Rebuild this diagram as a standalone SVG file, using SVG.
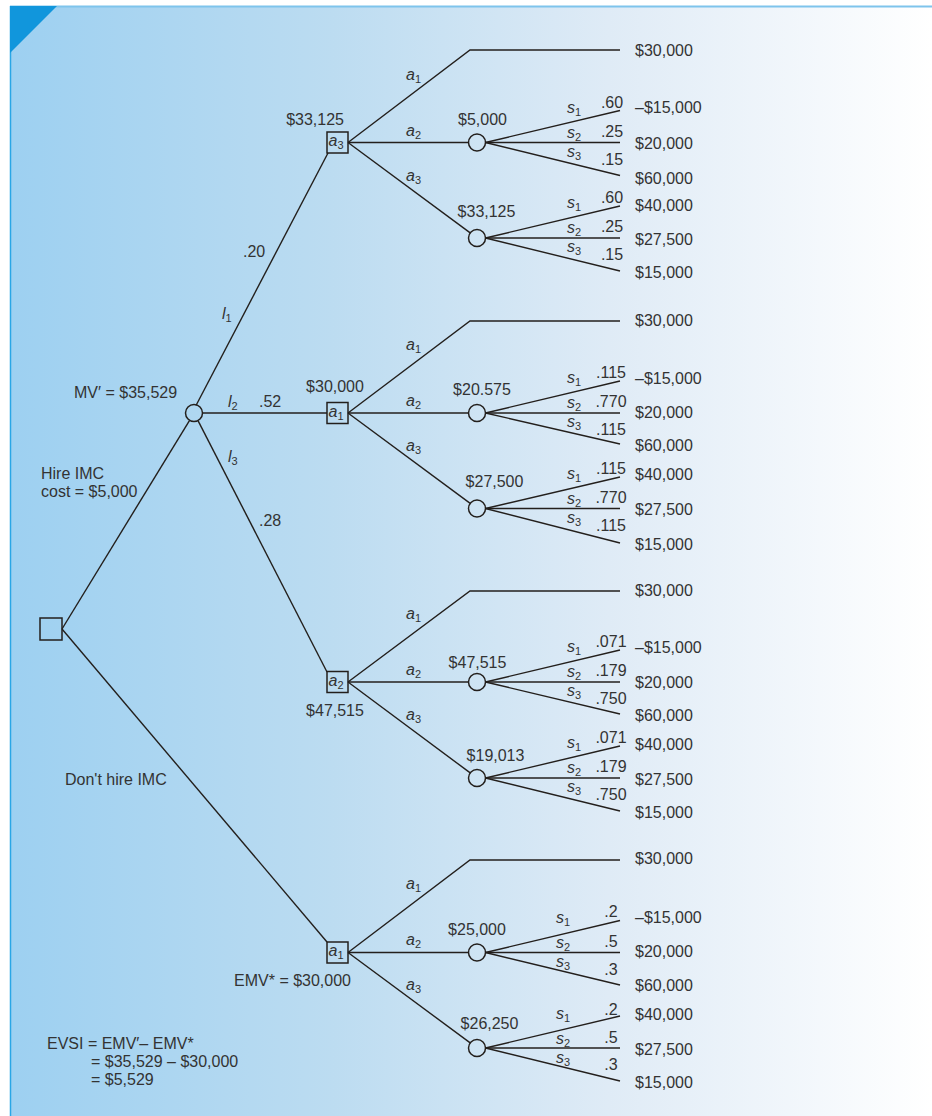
<svg xmlns="http://www.w3.org/2000/svg" width="932" height="1116" viewBox="0 0 932 1116">
<defs>
<linearGradient id="bg" x1="0" y1="0" x2="1" y2="0">
<stop offset="0" stop-color="#9dd0f1"/>
<stop offset="0.35" stop-color="#bcdcf1"/>
<stop offset="0.65" stop-color="#dfebf6"/>
<stop offset="1" stop-color="#ffffff"/>
</linearGradient>
<style>
.t{font-family:"Liberation Sans",Arial,Helvetica,sans-serif;font-size:16px;fill:#333}
.m{text-anchor:middle}
.e{text-anchor:end}
.i{font-style:italic}
.sub{font-size:11px;font-style:normal}
.ln{stroke:#231f1c;stroke-width:1.4;fill:none}
.box{stroke:#231f1c;stroke-width:1.5;fill:none}
.cir{stroke:#231f1c;stroke-width:1.5;fill:none}
</style>
</defs>
<rect x="10" y="7" width="922" height="1109" fill="url(#bg)"/>
<line x1="10" y1="6.5" x2="932" y2="6.5" stroke="#7ec4ec" stroke-width="2"/>
<line x1="10.5" y1="6" x2="10.5" y2="1116" stroke="#2aa6e6" stroke-width="1.5"/>
<polygon points="10,6 57,6 10,53" fill="#1196dc"/>

<g id="connectors" class="ln">
<line x1="62" y1="629" x2="189.6" y2="420.3"/>
<line x1="62" y1="629" x2="327" y2="942"/>
<line x1="196" y1="405.5" x2="328" y2="153"/>
<line x1="202.5" y1="413" x2="327" y2="413"/>
<line x1="198" y1="420.6" x2="327" y2="672"/>
<!-- section 1 -->
<polyline points="348,142.5 470,50 620,50"/>
<line x1="348" y1="142.5" x2="468.5" y2="142.5"/>
<line x1="348" y1="142.5" x2="470.2" y2="232.9"/>
<line x1="485.5" y1="142.5" x2="620" y2="110.5"/>
<line x1="485.5" y1="142.5" x2="620" y2="142.5"/>
<line x1="485.5" y1="142.5" x2="620" y2="175.5"/>
<line x1="485.5" y1="238" x2="620" y2="206"/>
<line x1="485.5" y1="238" x2="620" y2="238"/>
<line x1="485.5" y1="238" x2="620" y2="271"/>
<!-- section 2 -->
<polyline points="348,413 470,321 620,321"/>
<line x1="348" y1="413" x2="468.5" y2="413"/>
<line x1="348" y1="413" x2="470.2" y2="503.4"/>
<line x1="485.5" y1="413" x2="620" y2="381"/>
<line x1="485.5" y1="413" x2="620" y2="413"/>
<line x1="485.5" y1="413" x2="620" y2="444"/>
<line x1="485.5" y1="508.5" x2="620" y2="477"/>
<line x1="485.5" y1="508.5" x2="620" y2="508.5"/>
<line x1="485.5" y1="508.5" x2="620" y2="543"/>
<!-- section 3 -->
<polyline points="348,682 470,591 620,591"/>
<line x1="348" y1="682" x2="468.5" y2="682"/>
<line x1="348" y1="682" x2="470.2" y2="772.9"/>
<line x1="485.5" y1="682" x2="620" y2="650"/>
<line x1="485.5" y1="682" x2="620" y2="682"/>
<line x1="485.5" y1="682" x2="620" y2="714"/>
<line x1="485.5" y1="778" x2="620" y2="746"/>
<line x1="485.5" y1="778" x2="620" y2="778"/>
<line x1="485.5" y1="778" x2="620" y2="811"/>
<!-- section 4 -->
<polyline points="348,952.5 470,860 620,860"/>
<line x1="348" y1="952.5" x2="468.5" y2="952.5"/>
<line x1="348" y1="952.5" x2="470.2" y2="1042.9"/>
<line x1="485.5" y1="952.5" x2="620" y2="920.5"/>
<line x1="485.5" y1="952.5" x2="620" y2="952.5"/>
<line x1="485.5" y1="952.5" x2="620" y2="985"/>
<line x1="485.5" y1="1048" x2="620" y2="1016"/>
<line x1="485.5" y1="1048" x2="620" y2="1048"/>
<line x1="485.5" y1="1048" x2="620" y2="1081"/>
</g>

<g id="connector-labels">
<text class="t" x="65" y="785">Don't hire IMC</text>
<text class="t" x="41" y="479">Hire IMC</text>
<text class="t" x="41" y="497">cost = $5,000</text>
<text class="t" x="243" y="257">.20</text>
<text class="t i" x="222" y="319">l<tspan class="sub" dy="3">1</tspan></text>
<text class="t i" x="228" y="407">l<tspan class="sub" dy="3">2</tspan></text>
<text class="t" x="259" y="407">.52</text>
<text class="t i" x="228" y="462">l<tspan class="sub" dy="3">3</tspan></text>
<text class="t" x="259" y="526">.28</text>
</g>

<g id="root">
<rect class="box" x="40" y="618" width="22" height="22"/>
</g>

<g id="mv">
<circle class="cir" cx="194" cy="413" r="8.5"/>
<text class="t" x="74" y="398">MV′ = $35,529</text>
</g>

<!-- Section 1 -->
<g id="d1">
<rect class="box" x="327" y="132" width="21" height="21"/>
<text class="t i m" x="336" y="146">a<tspan class="sub" dy="3">3</tspan></text>
<text class="t e" x="344" y="125">$33,125</text>
<text class="t i" x="406" y="79.5">a<tspan class="sub" dy="3">1</tspan></text>
<text class="t i" x="406" y="135.5">a<tspan class="sub" dy="3">2</tspan></text>
<text class="t i" x="406" y="180.5">a<tspan class="sub" dy="3">3</tspan></text>
<text class="t" x="635" y="56">$30,000</text>
</g>
<g id="c1a">
<circle class="cir" cx="477" cy="142.5" r="8.5"/>
<text class="t m" x="482.5" y="125">$5,000</text>
<text class="t i" x="567" y="112.5">s<tspan class="sub" dy="3">1</tspan></text>
<text class="t i" x="567" y="137.5">s<tspan class="sub" dy="3">2</tspan></text>
<text class="t i" x="567" y="156.5">s<tspan class="sub" dy="3">3</tspan></text>
<text class="t m" x="612" y="107.5">.60</text>
<text class="t m" x="612" y="136.5">.25</text>
<text class="t m" x="612" y="164.5">.15</text>
<text class="t" x="635" y="113">–$15,000</text>
<text class="t" x="635" y="149">$20,000</text>
<text class="t" x="635" y="184">$60,000</text>
</g>
<g id="c1b">
<circle class="cir" cx="477" cy="238" r="8.5"/>
<text class="t m" x="486.5" y="217">$33,125</text>
<text class="t i" x="567" y="208">s<tspan class="sub" dy="3">1</tspan></text>
<text class="t i" x="567" y="233">s<tspan class="sub" dy="3">2</tspan></text>
<text class="t i" x="567" y="252">s<tspan class="sub" dy="3">3</tspan></text>
<text class="t m" x="612" y="203">.60</text>
<text class="t m" x="612" y="232">.25</text>
<text class="t m" x="612" y="260">.15</text>
<text class="t" x="635" y="211">$40,000</text>
<text class="t" x="635" y="245">$27,500</text>
<text class="t" x="635" y="278">$15,000</text>
</g>

<!-- Section 2 -->
<g id="d2">
<rect class="box" x="327" y="402.5" width="21" height="21"/>
<text class="t i m" x="336" y="416.5">a<tspan class="sub" dy="3">1</tspan></text>
<text class="t m" x="335" y="392">$30,000</text>
<text class="t i" x="406" y="350">a<tspan class="sub" dy="3">1</tspan></text>
<text class="t i" x="406" y="406">a<tspan class="sub" dy="3">2</tspan></text>
<text class="t i" x="406" y="451">a<tspan class="sub" dy="3">3</tspan></text>
<text class="t" x="635" y="326">$30,000</text>
</g>
<g id="c2a">
<circle class="cir" cx="477" cy="413" r="8.5"/>
<text class="t m" x="482" y="395">$20.575</text>
<text class="t i" x="567" y="383">s<tspan class="sub" dy="3">1</tspan></text>
<text class="t i" x="567" y="408">s<tspan class="sub" dy="3">2</tspan></text>
<text class="t i" x="567" y="427">s<tspan class="sub" dy="3">3</tspan></text>
<text class="t m" x="611" y="378">.115</text>
<text class="t m" x="611" y="407">.770</text>
<text class="t m" x="611" y="435">.115</text>
<text class="t" x="635" y="384">–$15,000</text>
<text class="t" x="635" y="418">$20,000</text>
<text class="t" x="635" y="451">$60,000</text>
</g>
<g id="c2b">
<circle class="cir" cx="477" cy="508.5" r="8.5"/>
<text class="t m" x="494.5" y="487">$27,500</text>
<text class="t i" x="567" y="478.5">s<tspan class="sub" dy="3">1</tspan></text>
<text class="t i" x="567" y="503.5">s<tspan class="sub" dy="3">2</tspan></text>
<text class="t i" x="567" y="522.5">s<tspan class="sub" dy="3">3</tspan></text>
<text class="t m" x="611" y="473.5">.115</text>
<text class="t m" x="611" y="502.5">.770</text>
<text class="t m" x="611" y="530.5">.115</text>
<text class="t" x="635" y="480">$40,000</text>
<text class="t" x="635" y="515">$27,500</text>
<text class="t" x="635" y="550">$15,000</text>
</g>

<!-- Section 3 -->
<g id="d3">
<rect class="box" x="327" y="671.5" width="21" height="21"/>
<text class="t i m" x="336" y="685.5">a<tspan class="sub" dy="3">2</tspan></text>
<text class="t m" x="335" y="716">$47,515</text>
<text class="t i" x="406" y="619">a<tspan class="sub" dy="3">1</tspan></text>
<text class="t i" x="406" y="675">a<tspan class="sub" dy="3">2</tspan></text>
<text class="t i" x="406" y="720">a<tspan class="sub" dy="3">3</tspan></text>
<text class="t" x="635" y="596">$30,000</text>
</g>
<g id="c3a">
<circle class="cir" cx="477" cy="682" r="8.5"/>
<text class="t m" x="477.5" y="668">$47,515</text>
<text class="t i" x="567" y="652">s<tspan class="sub" dy="3">1</tspan></text>
<text class="t i" x="567" y="677">s<tspan class="sub" dy="3">2</tspan></text>
<text class="t i" x="567" y="696">s<tspan class="sub" dy="3">3</tspan></text>
<text class="t m" x="611" y="647">.071</text>
<text class="t m" x="611" y="676">.179</text>
<text class="t m" x="611" y="704">.750</text>
<text class="t" x="635" y="653">–$15,000</text>
<text class="t" x="635" y="688">$20,000</text>
<text class="t" x="635" y="721">$60,000</text>
</g>
<g id="c3b">
<circle class="cir" cx="477" cy="778" r="8.5"/>
<text class="t m" x="495.5" y="761">$19,013</text>
<text class="t i" x="567" y="748">s<tspan class="sub" dy="3">1</tspan></text>
<text class="t i" x="567" y="773">s<tspan class="sub" dy="3">2</tspan></text>
<text class="t i" x="567" y="792">s<tspan class="sub" dy="3">3</tspan></text>
<text class="t m" x="611" y="743">.071</text>
<text class="t m" x="611" y="772">.179</text>
<text class="t m" x="611" y="800">.750</text>
<text class="t" x="635" y="750">$40,000</text>
<text class="t" x="635" y="785">$27,500</text>
<text class="t" x="635" y="818">$15,000</text>
</g>

<!-- Section 4 -->
<g id="d4">
<rect class="box" x="327" y="942" width="21" height="21"/>
<text class="t i m" x="336" y="956">a<tspan class="sub" dy="3">1</tspan></text>
<text class="t e" x="351" y="986">EMV* = $30,000</text>
<text class="t i" x="406" y="889">a<tspan class="sub" dy="3">1</tspan></text>
<text class="t i" x="406" y="945">a<tspan class="sub" dy="3">2</tspan></text>
<text class="t i" x="406" y="990">a<tspan class="sub" dy="3">3</tspan></text>
<text class="t" x="635" y="864">$30,000</text>
</g>
<g id="c4a">
<circle class="cir" cx="477" cy="952.5" r="8.5"/>
<text class="t m" x="477" y="935">$25,000</text>
<text class="t i" x="556" y="922.5">s<tspan class="sub" dy="3">1</tspan></text>
<text class="t i" x="556" y="947.5">s<tspan class="sub" dy="3">2</tspan></text>
<text class="t i" x="556" y="966.5">s<tspan class="sub" dy="3">3</tspan></text>
<text class="t m" x="611" y="917">.2</text>
<text class="t m" x="611" y="946.5">.5</text>
<text class="t m" x="611" y="974.5">.3</text>
<text class="t" x="635" y="923">–$15,000</text>
<text class="t" x="635" y="957">$20,000</text>
<text class="t" x="635" y="991">$60,000</text>
</g>
<g id="c4b">
<circle class="cir" cx="477" cy="1048" r="8.5"/>
<text class="t m" x="489.5" y="1029">$26,250</text>
<text class="t i" x="556" y="1019">s<tspan class="sub" dy="3">1</tspan></text>
<text class="t i" x="556" y="1044">s<tspan class="sub" dy="3">2</tspan></text>
<text class="t i" x="556" y="1063">s<tspan class="sub" dy="3">3</tspan></text>
<text class="t m" x="611" y="1015">.2</text>
<text class="t m" x="611" y="1043">.5</text>
<text class="t m" x="611" y="1070">.3</text>
<text class="t" x="635" y="1020">$40,000</text>
<text class="t" x="635" y="1055">$27,500</text>
<text class="t" x="635" y="1088">$15,000</text>
</g>

<g id="evsi">
<text class="t" x="47" y="1049">EVSI = EMV′– EMV*</text>
<text class="t" x="91" y="1067">= $35,529 – $30,000</text>
<text class="t" x="91" y="1085">= $5,529</text>
</g>
</svg>
